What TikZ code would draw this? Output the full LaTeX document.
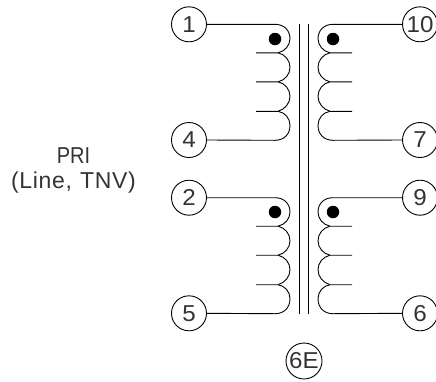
\documentclass[tikz,border=0pt]{standalone}
\usepackage{fontspec}
\setmainfont{Liberation Sans}
\newfontfamily\digitfont[FakeStretch=1.05]{Liberation Sans}
\newfontfamily\spacedfont[LetterSpace=3]{Liberation Sans}
\newfontfamily\narrowfont[FakeStretch=0.87]{Liberation Sans}
\tikzset{
  x=1pt,y=-1pt,
  pin/.style={circle,draw,line width=0.9pt,minimum size=35pt,inner sep=0pt,font=\digitfont\fontsize{23}{23}\selectfont,text=black!80},
  wire/.style={line width=0.9pt},
  core/.style={line width=1pt},
  phasedot/.style={circle,fill=black,minimum size=12.5pt,inner sep=0pt},
  lbl/.style={align=center,inner sep=0pt,font=\fontsize{23}{25}\selectfont,text=black!80}
}
% left coil: #1 = terminal top, #2 = terminal bottom, #3 = top y
\newcommand{\leftcoil}[3]{%
  \coordinate (a) at (275,#3);
  \draw[wire] (#1.east) -- (a) .. controls (284,#3) and (290,{#3+6}) .. (290,{#3+14.3}) .. controls (290,{#3+21}) and (285,{#3+27}) .. (278,{#3+28.5});
  \draw[wire] (256,{#3+28.5}) -- (278,{#3+28.5}) .. controls (285,{#3+30}) and (290,{#3+36}) .. (290,{#3+43}) .. controls (290,{#3+50}) and (285,{#3+56}) .. (278,{#3+57.5});
  \draw[wire] (256,{#3+57.5}) -- (278,{#3+57.5}) .. controls (285,{#3+59}) and (290,{#3+65}) .. (290,{#3+72}) .. controls (290,{#3+79}) and (285,{#3+85}) .. (278,{#3+87});
  \draw[wire] (256,{#3+87}) -- (278,{#3+87}) .. controls (285,{#3+88}) and (290,{#3+94}) .. (290,{#3+101}) .. controls (290,{#3+110}) and (284,{#3+116}) .. (275,{#3+116}) -- (#2.east);
}
\newcommand{\rightcoil}[3]{%
  \coordinate (a) at (333,#3);
  \draw[wire] (#1.west) -- (a) .. controls (324,#3) and (318,{#3+6}) .. (318,{#3+14.3}) .. controls (318,{#3+21}) and (323,{#3+27}) .. (330,{#3+28.5});
  \draw[wire] (352,{#3+28.5}) -- (330,{#3+28.5}) .. controls (323,{#3+30}) and (318,{#3+36}) .. (318,{#3+43}) .. controls (318,{#3+50}) and (323,{#3+56}) .. (330,{#3+57.5});
  \draw[wire] (352,{#3+57.5}) -- (330,{#3+57.5}) .. controls (323,{#3+59}) and (318,{#3+65}) .. (318,{#3+72}) .. controls (318,{#3+79}) and (323,{#3+85}) .. (330,{#3+87});
  \draw[wire] (352,{#3+87}) -- (330,{#3+87}) .. controls (323,{#3+88}) and (318,{#3+94}) .. (318,{#3+101}) .. controls (318,{#3+110}) and (324,{#3+116}) .. (333,{#3+116}) -- (#2.west);
}
\begin{document}
\begin{tikzpicture}
\useasboundingbox (0,0) rectangle (436,381);
\node[pin] (p1) at (189,24.3) {1};
\node[pin] (p4) at (189,140) {4};
\node[pin] (p2) at (189,197.7) {2};
\node[pin] (p5) at (189,313.3) {5};
\node[pin] (p10) at (420,24.3) {10};
\node[pin] (p7) at (420,140) {7};
\node[pin] (p9) at (420,197.7) {9};
\node[pin] (p6) at (420,313.3) {6};
\node[pin,minimum size=36pt] (tag) at (304,361) {6E};
\node[lbl] (pri) at (73.5,170) {{\narrowfont\fontsize{23}{25}\selectfont PRI}\\{\spacedfont\fontsize{23}{25}\selectfont (Line,\hspace{8pt}TNV)}};
\leftcoil{p1}{p4}{24.3}
\leftcoil{p2}{p5}{197.7}
\rightcoil{p10}{p7}{24.3}
\rightcoil{p9}{p6}{197.7}
\node[phasedot] (d1) at (275,39) {};
\node[phasedot] (d2) at (275,212) {};
\node[phasedot] (d3) at (333,39) {};
\node[phasedot] (d4) at (333,212) {};
\coordinate (c1t) at (299.7,24);
\coordinate (c1b) at (299.7,313.5);
\coordinate (c2t) at (308.7,24);
\coordinate (c2b) at (308.7,313.5);
\draw[core] (c1t) -- (c1b);
\draw[core] (c2t) -- (c2b);
\end{tikzpicture}
\end{document}
